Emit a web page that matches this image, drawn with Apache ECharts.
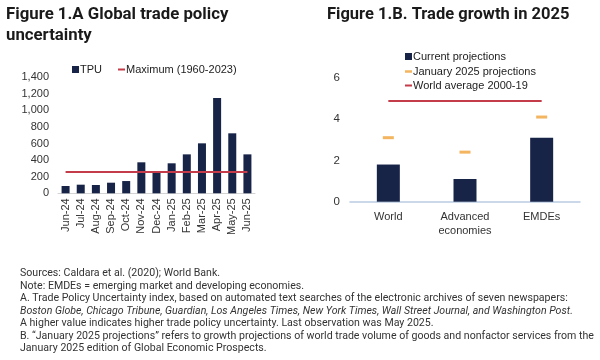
<!DOCTYPE html>
<html><head><meta charset="utf-8">
<script src="https://cdn.jsdelivr.net/npm/echarts@6/dist/echarts.min.js"></script>
<style>html,body{margin:0;background:#fff}#c{width:600px;height:360px}</style></head>
<body><div id="c"></div>
<script>
const months = ['Jun-24','Jul-24','Aug-24','Sep-24','Oct-24','Nov-24','Dec-24','Jan-25','Feb-25','Mar-25','Apr-25','May-25','Jun-25'];
const tpu = [88,104,100,128,148,374,245,362,470,603,1150,724,470];
const tpuMax = 265;
const groups = ['World','Advanced\neconomies','EMDEs'];
const currentProj = [1.8,1.1,3.1];
const januaryProj = [3.1,2.4,4.1];
const worldAvg = 4.9;
const footnotes = [
  'Sources: Caldara et al. (2020); World Bank.',
  'Note: EMDEs = emerging market and developing economies.',
  'A. Trade Policy Uncertainty index, based on automated text searches of the electronic archives of seven newspapers:',
  'Boston Globe, Chicago Tribune, Guardian, Los Angeles Times, New York Times, Wall Street Journal, and Washington Post.',
  'A higher value indicates higher trade policy uncertainty. Last observation was May 2025.',
  'B. \u201cJanuary 2025 projections\u201d refers to growth projections of world trade volume of goods and nonfactor services from the',
  'January 2025 edition of Global Economic Prospects.'
];

const NAVY = '#172447', RED = '#C43B4A', ORANGE = '#F0A238';
const AX = 'Liberation Sans, Arial, sans-serif';
const chart = echarts.init(document.getElementById('c'), null, {renderer:'canvas'});

const titles = [
  {text:'Figure 1.A Global trade policy\nuncertainty', left:6, top:5, padding:0,
   textStyle:{fontFamily:'Roboto', fontWeight:'bold', fontSize:16.8, lineHeight:20.5, color:'#1a1a1a'}},
  {text:'Figure 1.B. Trade growth in 2025', left:327, top:5, padding:0,
   textStyle:{fontFamily:'Roboto', fontWeight:'bold', fontSize:16.5, lineHeight:20.5, color:'#1a1a1a'}}
];
footnotes.forEach((t,i)=>{
  titles.push({text:t, left:20, top:267.5 + i*12.5, padding:0,
    textStyle:{fontFamily:'Roboto', fontWeight:'normal', fontStyle: i===3?'italic':'normal', fontSize:10.6, lineHeight:12, color:'#333'}});
});
const legText = {fontFamily:AX, fontSize:11, color:'#222', padding:[0,0,0,-4]};

const option = {
  animation:false,
  title: titles,
  legend: [
    {data:['TPU'], left:72, top:64, padding:0, itemWidth:7, itemHeight:7, icon:'rect', textStyle:legText},
    {data:['Maximum (1960-2023)'], left:118, top:64, padding:0, itemWidth:7, itemHeight:2, icon:'rect', textStyle:legText},
    {data:['Current projections'], left:405, top:51, padding:0, itemWidth:7, itemHeight:7, icon:'rect', textStyle:legText},
    {data:['January 2025 projections'], left:405, top:66, padding:0, itemWidth:7, itemHeight:2.5, icon:'rect', textStyle:legText},
    {data:['World average 2000-19'], left:405, top:80, padding:0, itemWidth:7, itemHeight:2, icon:'rect', textStyle:legText}
  ],
  grid: [
    {left:58, width:197, top:77.3, height:116},
    {left:350, width:230, top:36.5, height:165.2}
  ],
  xAxis: [
    {type:'category', gridIndex:0, data:months,
     axisLine:{lineStyle:{color:'#D3D3D3', width:1}}, axisTick:{show:false},
     axisLabel:{rotate:90, interval:0, margin:5, fontFamily:AX, fontSize:11, color:'#333'}},
    {type:'category', gridIndex:1, data:groups,
     axisLine:{lineStyle:{color:'#B9CBE3', width:1.5}}, axisTick:{show:false},
     axisLabel:{interval:0, margin:8, fontFamily:AX, fontSize:11, color:'#333', lineHeight:14}}
  ],
  yAxis: [
    {type:'value', gridIndex:0, min:0, max:1400, interval:200,
     splitLine:{show:false}, axisLine:{show:false}, axisTick:{show:false},
     axisLabel:{margin:9, fontFamily:AX, fontSize:11, color:'#333',
       formatter:v=>v.toLocaleString('en-US')}},
    {type:'value', gridIndex:1, min:0, max:8, interval:2,
     splitLine:{show:false}, axisLine:{show:false}, axisTick:{show:false},
     axisLabel:{margin:10, fontFamily:AX, fontSize:11.5, color:'#333',
       formatter:v=> v===8 ? '' : String(v)}}
  ],
  series: [
    {name:'TPU', type:'bar', xAxisIndex:0, yAxisIndex:0, data:tpu, barWidth:8,
     itemStyle:{color:NAVY}},
    {name:'Maximum (1960-2023)', type:'line', xAxisIndex:0, yAxisIndex:0, data:[], symbol:'none',
     color:RED, itemStyle:{color:RED}, lineStyle:{color:RED, width:2},
     markLine:{silent:true, symbol:'none', label:{show:false}, animation:false,
       lineStyle:{color:RED, width:2, type:'solid'},
       data:[[{coord:[months[0], tpuMax]},{coord:[months[months.length-1], tpuMax]}]]}},
    {name:'Current projections', type:'bar', xAxisIndex:1, yAxisIndex:1, data:currentProj, barWidth:23,
     itemStyle:{color:NAVY}},
    {name:'January 2025 projections', type:'scatter', xAxisIndex:1, yAxisIndex:1, data:januaryProj,
     symbol:'rect', symbolSize:[11,3], itemStyle:{color:ORANGE}, z:5},
    {name:'World average 2000-19', type:'line', xAxisIndex:1, yAxisIndex:1, data:[], symbol:'none',
     color:RED, itemStyle:{color:RED}, lineStyle:{color:RED, width:2},
     markLine:{silent:true, symbol:'none', label:{show:false}, animation:false,
       lineStyle:{color:RED, width:2, type:'solid'},
       data:[[{coord:[groups[0], worldAvg]},{coord:[groups[groups.length-1], worldAvg]}]]}}
  ]
};
chart.setOption(option);
</script></body></html>
